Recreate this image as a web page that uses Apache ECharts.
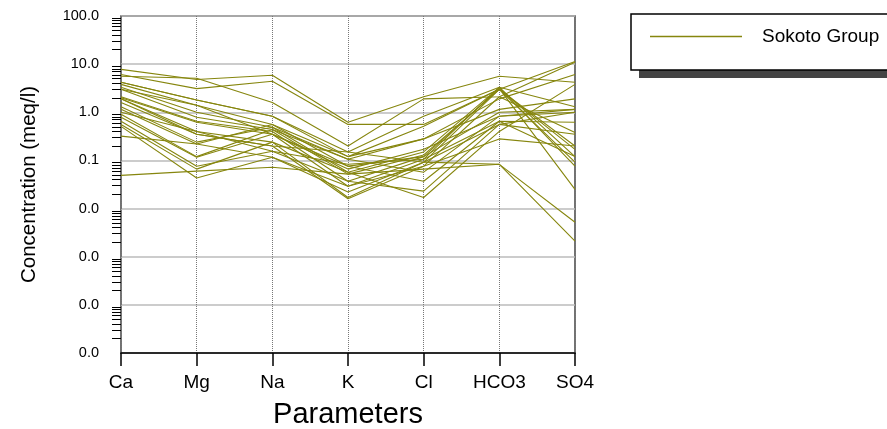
<!DOCTYPE html>
<html>
<head>
<meta charset="utf-8">
<script src="https://cdn.jsdelivr.net/npm/echarts@6/dist/echarts.min.js"></script>
<style>
  html, body { margin: 0; padding: 0; background: #fff; }
  #chart { width: 887px; height: 429px; }
</style>
</head>
<body>
<div id="chart"></div>
<script>
var parameters = ['Ca', 'Mg', 'Na', 'K', 'Cl', 'HCO3', 'SO4']
var groupName = 'Sokoto Group'

// one row per sample, meq/l in the order of parameters
var samples = [
  [7.8, 4.8, 5.9, 0.62, 2.1, 5.6, 4.2],
  [6.1, 3.1, 4.4, 0.56, 0.56, 3.0, 11.4],
  [5.6, 5.1, 1.6, 0.20, 1.9, 2.1, 10.9],
  [4.2, 1.8, 0.83, 0.15, 0.83, 3.3, 1.3],
  [3.8, 1.4, 0.56, 0.12, 0.51, 3.0, 0.20],
  [3.3, 1.0, 0.49, 0.057, 0.15, 3.3, 0.12],
  [3.0, 0.79, 0.44, 0.052, 0.13, 3.0, 0.092],
  [2.1, 0.65, 0.40, 0.037, 0.12, 3.1, 0.025],
  [2.0, 0.62, 0.35, 0.029, 0.106, 3.3, 0.076],
  [1.9, 0.40, 0.24, 0.017, 0.092, 3.0, 0.17],
  [1.6, 0.35, 0.20, 0.016, 0.076, 2.1, 0.38],
  [1.3, 0.24, 0.49, 0.106, 0.28, 1.15, 1.9],
  [1.15, 0.22, 0.56, 0.076, 0.12, 1.0, 1.15],
  [0.91, 0.12, 0.44, 0.106, 0.057, 0.83, 1.0],
  [0.79, 0.116, 0.35, 0.076, 0.037, 0.65, 0.62],
  [0.65, 0.076, 0.155, 0.037, 0.023, 0.56, 0.35],
  [0.56, 0.066, 0.24, 0.057, 0.017, 0.40, 3.8],
  [0.51, 0.043, 0.116, 0.029, 0.076, 0.28, 0.20],
  [0.32, 0.22, 0.116, 0.022, 0.092, 0.56, 1.0],
  [0.049, 0.06, 0.072, 0.052, 0.066, 0.083, 0.0052],
  [1.9, 0.35, 0.20, 0.15, 0.092, 0.083, 0.0021],
  [4.2, 1.8, 0.83, 0.12, 0.28, 1.9, 6.1],
  [3.0, 1.4, 0.35, 0.066, 0.17, 0.83, 1.15],
  [1.0, 0.40, 0.155, 0.083, 0.106, 0.65, 0.12]
]

var yMin = 0.00001
var yMax = 100
var lineColor = '#86860e'
var font = 'Liberation Sans, Arial, sans-serif'

// minor ticks at 2..9 of every decade
var minorTicks = []
for (var d = yMin; d < yMax; d *= 10) {
  for (var m = 2; m <= 9; m++) minorTicks.push(d * m)
}

var chart = echarts.init(document.getElementById('chart'))

var series = samples.map(function (row) {
  return {
    name: groupName,
    type: 'line',
    data: row,
    symbol: 'none',
    animation: false,
    lineStyle: { color: lineColor, width: 1.1 },
    itemStyle: { color: lineColor }
  }
})

chart.setOption({
  animation: false,
  grid: {
    left: 121,
    right: 312,
    top: 16,
    bottom: 76,
    outerBoundsMode: 'none',
    show: true,
    borderColor: '#444',
    borderWidth: 1.5
  },
  // legend frame with its drop shadow
  graphic: [
    { type: 'rect', z: 1, shape: { x: 639, y: 22, width: 300, height: 56 }, style: { fill: '#444' } },
    { type: 'rect', z: 2, shape: { x: 631, y: 14, width: 300, height: 56 }, style: { fill: '#fff', stroke: '#000', lineWidth: 1.5 } }
  ],
  legend: {
    data: [{ name: groupName, icon: 'rect' }],
    left: 650,
    top: 27,
    z: 10,
    padding: 0,
    itemWidth: 92,
    itemHeight: 1.5,
    textStyle: { fontFamily: font, fontSize: 19, color: '#000', padding: [0, 0, 0, 15] }
  },
  xAxis: {
    type: 'category',
    data: parameters,
    boundaryGap: false,
    name: 'Parameters',
    nameLocation: 'middle',
    nameGap: 47,
    nameTextStyle: { fontFamily: font, fontSize: 29, color: '#000' },
    axisLine: { lineStyle: { color: '#000', width: 1.5 } },
    axisTick: { length: 13, lineStyle: { color: '#000', width: 1.5 } },
    axisLabel: { fontFamily: font, fontSize: 19, color: '#000', margin: 20 },
    splitLine: { show: true, lineStyle: { color: '#777', type: 'dotted', width: 1 } }
  },
  yAxis: [
    {
      type: 'log',
      logBase: 10,
      min: yMin,
      max: yMax,
      name: 'Concentration (meq/l)',
      nameLocation: 'middle',
      nameGap: 81,
      nameTextStyle: { fontFamily: font, fontSize: 20.5, color: '#000' },
      axisLine: { lineStyle: { color: '#000', width: 1.5 } },
      axisTick: { length: 20, lineStyle: { color: '#000', width: 1.5 } },
      axisLabel: {
        fontFamily: font, fontSize: 14.5, color: '#000', margin: 22,
        formatter: function (v) { return Number(v).toFixed(1) }
      },
      splitLine: { show: true, lineStyle: { color: '#bbb', width: 1.5 } }
    },
    {
      type: 'log',
      logBase: 10,
      min: yMin,
      max: yMax,
      position: 'left',
      axisLine: { show: false },
      axisTick: { show: true, customValues: minorTicks, length: 9, lineStyle: { color: '#000', width: 1 } },
      axisLabel: { show: false },
      splitLine: { show: false }
    }
  ],
  series: series
})
</script>
</body>
</html>
